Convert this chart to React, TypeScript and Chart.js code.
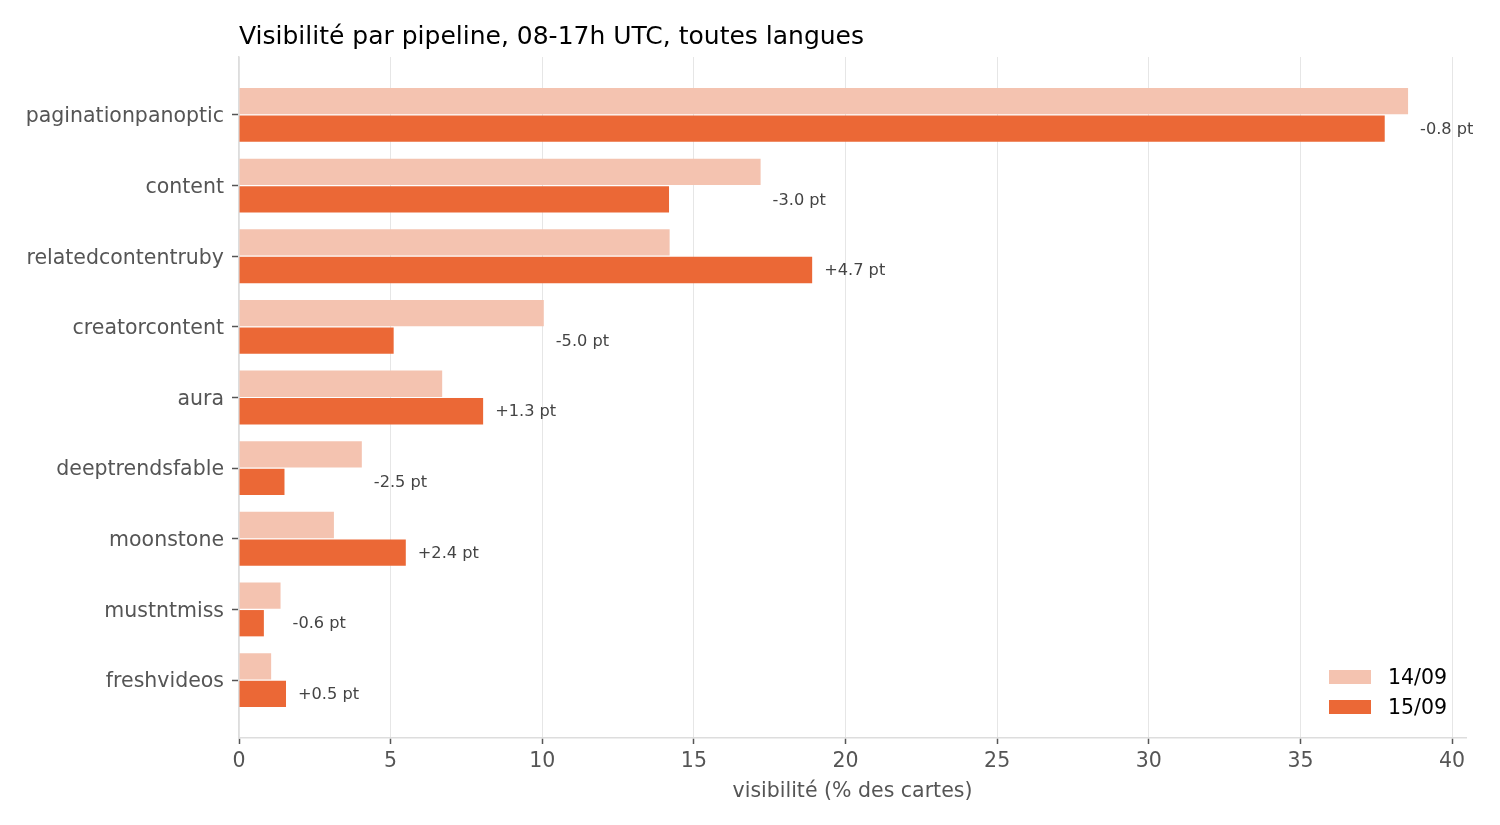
import { useEffect, useRef } from 'react';
import { Chart, registerables } from 'chart.js';

Chart.register(...registerables);

const categories = [
  'paginationpanoptic',
  'content',
  'relatedcontentruby',
  'creatorcontent',
  'aura',
  'deeptrendsfable',
  'moonstone',
  'mustntmiss',
  'freshvideos',
];
const seriesNames = ['14/09', '15/09'];
const values1409 = [38.55, 17.2, 14.2, 10.05, 6.7, 4.05, 3.13, 1.37, 1.06];
const values1509 = [37.78, 14.18, 18.9, 5.1, 8.05, 1.5, 5.5, 0.82, 1.55];
const deltaLabels = ['-0.8 pt', '-3.0 pt', '+4.7 pt', '-5.0 pt', '+1.3 pt', '-2.5 pt', '+2.4 pt', '-0.6 pt', '+0.5 pt'];
const xTickValues = [0, 5, 10, 15, 20, 25, 30, 35, 40];

const titleText = 'Visibilité par pipeline, 08-17h UTC, toutes langues';
const xTitle = 'visibilité (% des cartes)';

const LIGHT = '#F4C3B0';
const DARK = '#EB6836';
const FONT = "'DejaVu Sans', sans-serif";

const overlayPlugin = {
  id: 'overlay',
  afterDraw(chart: any) {
    const { ctx, chartArea, scales } = chart;
    ctx.save();
    // title
    ctx.fillStyle = '#000';
    ctx.font = `25px ${FONT}`;
    ctx.textAlign = 'left';
    ctx.textBaseline = 'alphabetic';
    ctx.fillText(titleText, chartArea.left, 44);

    // delta annotations
    const meta = chart.getDatasetMeta(1);
    ctx.font = `16.2px ${FONT}`;
    ctx.fillStyle = '#444';
    ctx.textBaseline = 'middle';
    categories.forEach((_, i) => {
      const m = Math.max(values1409[i], values1509[i]);
      const x = scales.x.getPixelForValue(m) + 12;
      const y = meta.data[i].y + 1;
      ctx.fillText(deltaLabels[i], x, y);
    });

    // legend
    const colors = [LIGHT, DARK];
    ctx.font = `20.5px ${FONT}`;
    seriesNames.forEach((name, k) => {
      const cy = chartArea.bottom - 61 + k * 30;
      ctx.fillStyle = colors[k];
      ctx.fillRect(chartArea.right - 137, cy - 7, 42, 14);
      ctx.fillStyle = '#000';
      ctx.fillText(name, chartArea.right - 78, cy + 2);
    });
    ctx.restore();
  },
};

export default function App() {
  const ref = useRef<HTMLCanvasElement | null>(null);

  useEffect(() => {
    if (!ref.current) return;
    const chart = new Chart(ref.current, {
      type: 'bar',
      data: {
        datasets: [
          {
            label: seriesNames[0],
            data: values1409.map((v, i) => ({ x: v, y: i })),
            backgroundColor: LIGHT,
            borderWidth: 0,
            categoryPercentage: 0.78,
            barPercentage: 0.955,
          },
          {
            label: seriesNames[1],
            data: values1509.map((v, i) => ({ x: v, y: i })),
            backgroundColor: DARK,
            borderWidth: 0,
            categoryPercentage: 0.78,
            barPercentage: 0.955,
          },
        ],
      },
      options: {
        indexAxis: 'y',
        responsive: false,
        animation: false,
        devicePixelRatio: 1,
        layout: { padding: { left: 0, right: 34, top: 57, bottom: 0 } },
        plugins: {
          legend: { display: false },
          title: { display: false },
          tooltip: { enabled: false },
        },
        scales: {
          x: {
            type: 'linear',
            min: 0,
            max: 40.46,
            offset: false,
            afterBuildTicks: (s: any) => {
              s.ticks = xTickValues.map((v) => ({ value: v }));
            },
            afterFit: (s: any) => {
              s.height = 87;
            },
            grid: {
              offset: false,
              color: '#e6e6e6',
              lineWidth: 1,
              drawTicks: true,
              tickLength: 6,
              tickColor: '#555',
              tickWidth: 1.5,
            },
            border: { color: '#dddddd', width: 1.5 },
            ticks: {
              color: '#555',
              font: { family: FONT, size: 20.5 },
              padding: 5,
              maxRotation: 0,
              autoSkip: false,
            },
            title: {
              display: true,
              text: xTitle,
              color: '#555',
              font: { family: FONT, size: 20.5 },
              padding: { top: 0, bottom: 21 },
            },
          },
          y: {
            type: 'linear',
            reverse: true,
            min: -0.82,
            max: 8.82,
            offset: false,
            afterBuildTicks: (s: any) => {
              s.ticks = categories.map((_, i) => ({ value: i }));
            },
            afterFit: (s: any) => {
              s.width = 239;
            },
            grid: {
              offset: false,
              drawOnChartArea: false,
              drawTicks: true,
              tickLength: 7,
              tickColor: '#555',
              tickWidth: 1.5,
            },
            border: { color: '#dddddd', width: 1.5 },
            ticks: {
              color: '#555',
              font: { family: FONT, size: 20.5 },
              padding: 8,
              labelOffset: 2,
              autoSkip: false,
              callback: (v: any) => categories[v as number] ?? '',
            },
          },
        },
      },
      plugins: [overlayPlugin],
    } as any);
    return () => chart.destroy();
  }, []);

  return (
    <div style={{ position: 'fixed', left: 0, top: 0, width: 1500, height: 825, background: '#fff' }}>
      <canvas ref={ref} width={1500} height={825} style={{ width: 1500, height: 825 }} />
    </div>
  );
}
